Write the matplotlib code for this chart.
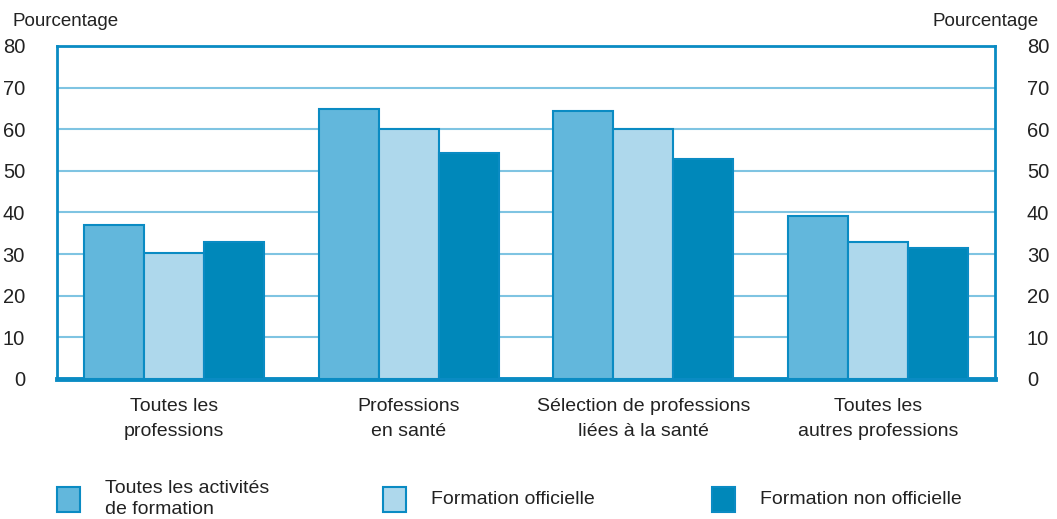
import matplotlib.pyplot as plt
import numpy as np
from matplotlib.patches import Rectangle

plt.rcParams['font.family'] = ['Liberation Sans', 'DejaVu Sans']

categories = ["Toutes les\nprofessions", "Professions\nen santé",
              "Sélection de professions\nliées à la santé", "Toutes les\nautres professions"]
series_names = ["Toutes les activités\nde formation", "Formation officielle", "Formation non officielle"]
toutes = [37.0, 64.9, 64.4, 39.2]
officielle = [30.3, 60.1, 60.1, 32.9]
non_officielle = [32.9, 54.3, 52.9, 31.5]
yticks = [0, 10, 20, 30, 40, 50, 60, 70, 80]

colors = ["#62b7dc", "#aed8ec", "#0088ba"]
edge = "#0a8bc3"
grid_col = "#7fc4e2"
text_col = "#222222"

fig = plt.figure(figsize=(10.57, 5.19), dpi=100)
ax = fig.add_axes([57/1057, 1 - 379/519, 938/1057, 333/519])

x = np.arange(len(categories))
w = 0.256
for i, (vals, c) in enumerate(zip([toutes, officielle, non_officielle], colors)):
    ax.bar(x + (i - 1) * w, vals, width=w, color=c, edgecolor=edge, linewidth=1.5, zorder=3)

ax.set_xlim(-0.5, 3.5)
ax.set_ylim(0, 80)
ax.set_yticks(yticks)
ax.set_yticklabels([str(v) for v in yticks])
ax.yaxis.grid(True, color=grid_col, linewidth=1.5, zorder=0)
ax.set_axisbelow(True)
ax.tick_params(axis='y', length=0, pad=23, labelsize=14.5, labelcolor=text_col,
               left=True, right=True, labelleft=True, labelright=True)
ax.set_xticks(x)
ax.set_xticklabels(categories, fontsize=14, color=text_col, linespacing=1.6)
ax.tick_params(axis='x', length=0, pad=14)
for s in ['left', 'right', 'top']:
    ax.spines[s].set_color(edge)
    ax.spines[s].set_linewidth(2)
ax.spines['bottom'].set_color(edge)
ax.spines['bottom'].set_linewidth(3.5)

fig.text(12/1057, 1 - 22/519, "Pourcentage", fontsize=13.5, color=text_col, va='center', ha='left')
fig.text(1039/1057, 1 - 22/519, "Pourcentage", fontsize=13.5, color=text_col, va='center', ha='right')

# legend drawn by hand to match the spacing
leg_x = [57, 383, 712]
for lx, name, c in zip(leg_x, series_names, colors):
    fig.add_artist(Rectangle((lx/1057, 1 - 512/519), 23/1057, 25/519, transform=fig.transFigure,
                             facecolor=c, edgecolor=edge, linewidth=1.5))
    fig.text((lx + 48)/1057, 1 - 499/519, name, fontsize=14, color=text_col,
             va='center', ha='left', linespacing=1.3)

fig.savefig("out.png", dpi=100)
